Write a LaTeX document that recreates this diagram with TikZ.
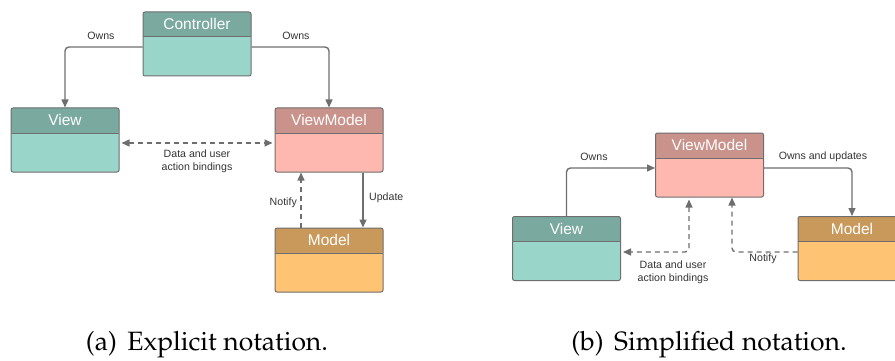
\documentclass[tikz,border=0pt]{standalone}
\usepackage[T1]{fontenc}
\usepackage{fontspec}
\usetikzlibrary{arrows.meta}
\newfontfamily\diagfont{Liberation Sans}
\newcommand{\capfont}{\fontencoding{T1}\fontfamily{ppl}\selectfont}

\definecolor{linegray}{HTML}{6E6E6E}
\definecolor{labelgray}{HTML}{333333}
\definecolor{tealH}{HTML}{7AA9A0}
\definecolor{tealB}{HTML}{9AD5CA}
\definecolor{roseH}{HTML}{C9928B}
\definecolor{roseB}{HTML}{FFB8AF}
\definecolor{ochreH}{HTML}{C9995B}
\definecolor{ochreB}{HTML}{FFC374}

\tikzset{
  classbox/.style n args={2}{
    draw=linegray, line width=1pt, rounded corners=2pt,
    minimum width=108pt, minimum height=64pt, inner sep=0pt, fill=#2,
    path picture={
      \fill[#1] (path picture bounding box.north west)
        rectangle ([yshift=-25pt]path picture bounding box.north east);
      \draw[linegray, line width=1pt]
        ([yshift=-25pt]path picture bounding box.north west)
        -- ([yshift=-25pt]path picture bounding box.north east);
    }},
  boxtitle/.style={font=\diagfont\fontsize{15.5}{17}\selectfont, text=white, inner sep=0pt},
  lbl/.style={font=\diagfont\fontsize{10.6}{12.6}\selectfont, text=labelgray, inner sep=0pt, align=center},
  conn/.style={draw=linegray, line width=1.4pt, rounded corners=4pt,
    -{Triangle[length=8pt,width=7pt]}},
  dconn/.style={conn, dash pattern=on 5pt off 4pt},
  caption/.style={font=\capfont\fontsize{26.5}{31}\selectfont, text=black, inner sep=0pt}
}

\begin{document}
\begin{tikzpicture}[x=1pt, y=-1pt]
\useasboundingbox (0,0) rectangle (895,361);
\clip (0,0) rectangle (895,361);

% ---------- explicit notation ----------
\node[classbox={tealH}{tealB}]   (ctrl)  at (197,44)  {};
\node[classbox={tealH}{tealB}]   (view)  at (65,140)  {};
\node[classbox={roseH}{roseB}]   (vm)    at (329,140) {};
\node[classbox={ochreH}{ochreB}] (model) at (329,260) {};

\node[boxtitle] (ctrlT)  at ([yshift=-12.5pt]ctrl.north)  {Controller};
\node[boxtitle] (viewT)  at ([yshift=-12.5pt]view.north)  {View};
\node[boxtitle] (vmT)    at ([yshift=-12.5pt]vm.north)    {ViewModel};
\node[boxtitle] (modelT) at ([yshift=-12.5pt]model.north) {Model};

\draw[conn] ([yshift=-3pt]ctrl.west) -| (view.north);
\draw[conn] ([yshift=-3pt]ctrl.east) -| (vm.north);
\draw[dconn, {Triangle[length=8pt,width=7pt]}-{Triangle[length=8pt,width=7pt]},
      shorten <=2pt, shorten >=2pt]
  ([yshift=-3pt]view.east) -- ([yshift=-3pt]vm.west);
\draw[dconn] ([xshift=-28pt]model.north) -- ([xshift=-28pt]vm.south);
\draw[conn]  ([xshift=34pt]vm.south) -- ([xshift=34pt]model.north);

\node[lbl] (ownsL)   at (101,36)  {Owns};
\node[lbl] (ownsR)   at (296,36)  {Owns};
\node[lbl] (bindA)   at (197,161) {Data and user\\action bindings};
\node[lbl, anchor=east] (notifyA) at (297,203) {Notify};
\node[lbl, anchor=west] (updA)    at (369,198) {Update};

\node[caption] (capA) at (207,345) {(a)\hspace{0.15em} Explicit notation.};

% ---------- simplified notation ----------
\node[classbox={roseH}{roseB}]   (vm2)    at (709.5,165)   {};
\node[classbox={tealH}{tealB}]   (view2)  at (566.5,248.5) {};
\node[classbox={ochreH}{ochreB}] (model2) at (852,248.5)   {};

\node[boxtitle] (vm2T)    at ([yshift=-12.5pt]vm2.north)    {ViewModel};
\node[boxtitle] (view2T)  at ([yshift=-12.5pt]view2.north)  {View};
\node[boxtitle] (model2T) at ([yshift=-12.5pt]model2.north) {Model};

\draw[conn] (view2.north) |- ([yshift=-3pt]vm2.west);
\draw[conn] ([yshift=-3pt]vm2.east) -| (model2.north);
\draw[dconn, {Triangle[length=8pt,width=7pt]}-{Triangle[length=8pt,width=7pt]},
      shorten <=2pt, shorten >=2pt]
  ([xshift=-20.5pt]vm2.south) |- ([yshift=-3.5pt]view2.east);
\draw[dconn] ([yshift=-3.5pt]model2.west) -| ([xshift=22.5pt]vm2.south);

\node[lbl] (owns2)   at (594,157)   {Owns};
\node[lbl] (ownsUpd) at (823,157)   {Owns and updates};
\node[lbl] (bindB)   at (673,272.5) {Data and user\\action bindings};
\node[lbl] (notifyB) at (763,259)   {Notify};

\node[caption] (capB) at (709,345) {(b)\hspace{0.15em} Simplified notation.};
\end{tikzpicture}
\end{document}
